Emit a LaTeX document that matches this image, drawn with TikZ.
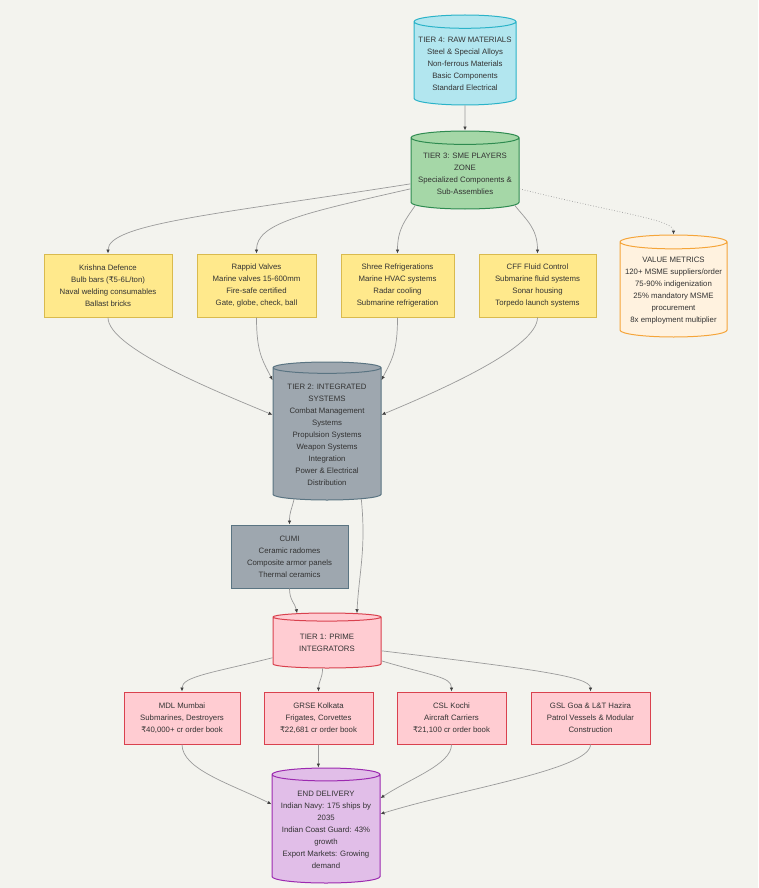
\documentclass[tikz,border=0pt]{standalone}
\usepackage{fontspec}
\setmainfont{Liberation Sans}
\newfontfamily\rupfont{DejaVu Sans}
\usetikzlibrary{shapes.geometric,arrows.meta}

\definecolor{paperbg}{HTML}{F3F3EE}
\definecolor{rawfill}{HTML}{B2E6EF}
\definecolor{rawline}{HTML}{2BB3C8}
\definecolor{smefill}{HTML}{A5D7A7}
\definecolor{smeline}{HTML}{2E8B50}
\definecolor{supfill}{HTML}{FFE98C}
\definecolor{supline}{HTML}{D9BA4E}
\definecolor{metfill}{HTML}{FFF2DF}
\definecolor{metline}{HTML}{F5A53A}
\definecolor{intfill}{HTML}{9EA7AF}
\definecolor{intline}{HTML}{5A7482}
\definecolor{primefill}{HTML}{FFCCD2}
\definecolor{primeline}{HTML}{D9414E}
\definecolor{delfill}{HTML}{E1BEE8}
\definecolor{delline}{HTML}{9C2AB0}
\definecolor{flowgray}{HTML}{9A9A9A}

\newcommand{\diagfont}{\fontsize{7.8}{12}\selectfont}
\newcommand{\rup}{{\rupfont ₹}}

\tikzset{
  tierdb/.style={cylinder, shape border rotate=90, aspect=0.14, anchor=shape center, draw, line width=1pt,
    align=center, inner sep=1pt, font=\diagfont, text=black!80},
  tierbox/.style={rectangle, draw, line width=1pt, align=center, inner sep=2pt,
    font=\diagfont, text=black!80},
  flow/.style={draw=flowgray, line width=0.7pt, -{Latex[length=4pt,width=3.5pt,color=black!75]}},
}

\begin{document}
\begin{tikzpicture}
  \fill[paperbg] (0,0) rectangle (758pt,-888pt);
  \begin{scope}[x=1pt,y=1pt]

  \node[tierdb, fill=rawfill, draw=rawline, minimum width=102pt, minimum height=90pt] (raw) at (465,-60)
    {TIER 4: RAW MATERIALS\\Steel \& Special Alloys\\Non-ferrous Materials\\Basic Components\\Standard Electrical};
  \node[tierdb, fill=smefill, draw=smeline, minimum width=108pt, minimum height=78pt] (sme) at (465,-170)
    {TIER 3: SME PLAYERS\\ZONE\\Specialized Components \&\\Sub-Assemblies};

  \node[tierbox, fill=supfill, draw=supline, minimum width=128pt, minimum height=63pt] (krishna) at (108,-285.5)
    {Krishna Defence\\Bulb bars (\rup5-6L/ton)\\Naval welding consumables\\Ballast bricks};
  \node[tierbox, fill=supfill, draw=supline, minimum width=119pt, minimum height=63pt] (rappid) at (256.5,-285.5)
    {Rappid Valves\\Marine valves 15-600mm\\Fire-safe certified\\Gate, globe, check, ball};
  \node[tierbox, fill=supfill, draw=supline, minimum width=113pt, minimum height=63pt] (shree) at (397.5,-285.5)
    {Shree Refrigerations\\Marine HVAC systems\\Radar cooling\\Submarine refrigeration};
  \node[tierbox, fill=supfill, draw=supline, minimum width=117pt, minimum height=63pt] (cff) at (537.5,-285.5)
    {CFF Fluid Control\\Submarine fluid systems\\Sonar housing\\Torpedo launch systems};
  \node[tierdb, fill=metfill, draw=metline, minimum width=107pt, minimum height=102pt] (metrics) at (673.5,-286)
    {VALUE METRICS\\120+ MSME suppliers/order\\75-90\% indigenization\\25\% mandatory MSME\\procurement\\8x employment multiplier};

  \node[tierdb, fill=intfill, draw=intline, minimum width=108pt, minimum height=138pt] (integ) at (327,-431)
    {TIER 2: INTEGRATED\\SYSTEMS\\Combat Management\\Systems\\Propulsion Systems\\Weapon Systems\\Integration\\Power \& Electrical\\Distribution};
  \node[tierbox, fill=intfill, draw=intline, minimum width=117pt, minimum height=63pt] (cumi) at (289.5,-556.5)
    {CUMI\\Ceramic radomes\\Composite armor panels\\Thermal ceramics};

  \node[tierdb, fill=primefill, draw=primeline, minimum width=108pt, minimum height=55pt] (prime) at (327,-640.5)
    {TIER 1: PRIME\\INTEGRATORS};
  \node[tierbox, fill=primefill, draw=primeline, minimum width=116pt, minimum height=52pt] (mdl) at (182,-718)
    {MDL Mumbai\\Submarines, Destroyers\\\rup40,000+ cr order book};
  \node[tierbox, fill=primefill, draw=primeline, minimum width=109pt, minimum height=52pt] (grse) at (318.5,-718)
    {GRSE Kolkata\\Frigates, Corvettes\\\rup22,681 cr order book};
  \node[tierbox, fill=primefill, draw=primeline, minimum width=109pt, minimum height=52pt] (csl) at (451.5,-718)
    {CSL Kochi\\Aircraft Carriers\\\rup21,100 cr order book};
  \node[tierbox, fill=primefill, draw=primeline, minimum width=119pt, minimum height=52pt] (gsl) at (590.5,-718)
    {GSL Goa \& L\&T Hazira\\Patrol Vessels \& Modular\\Construction};

  \node[tierdb, fill=delfill, draw=delline, minimum width=108pt, minimum height=115pt] (deliv) at (326,-825.5)
    {END DELIVERY\\Indian Navy: 175 ships by\\2035\\Indian Coast Guard: 43\%\\growth\\Export Markets: Growing\\demand};

  \draw[flow] (raw.south) -- (sme.north);
  \draw[flow] (sme.190) .. controls +(-190,-30) and +(0,30) .. (krishna.north);
  \draw[flow] (sme.195) .. controls +(-110,-25) and +(0,30) .. (rappid.north);
  \draw[flow] (sme.212) .. controls +(-10,-15) and +(0,25) .. (shree.north);
  \draw[flow] (sme.-32) .. controls +(12,-15) and +(0,25) .. (cff.north);
  \draw[flow, dotted] (sme.-15) .. controls +(100,-25) and +(0,15) .. (metrics.north);

  \draw[flow] (krishna.south) .. controls +(0,-30) and +(-60,25) .. (integ.160);
  \draw[flow] (rappid.south) .. controls +(0,-35) and +(-10,20) .. (integ.135);
  \draw[flow] (shree.south) .. controls +(0,-35) and +(10,20) .. (integ.45);
  \draw[flow] (cff.south) .. controls +(0,-30) and +(60,25) .. (integ.20);

  \draw[flow] (integ.243) .. controls +(-3,-12) and +(0,12) .. (cumi.north);
  \draw[flow] (integ.-62) .. controls +(5,-50) and +(2,40) .. (prime.45);
  \draw[flow] (cumi.south) .. controls +(0,-12) and +(-2,10) .. (prime.135);

  \draw[flow] (prime.195) .. controls +(-60,-15) and +(0,15) .. (mdl.north);
  \draw[flow] (prime.-100) .. controls +(0,-10) and +(0,10) .. (grse.north);
  \draw[flow] (prime.-18) .. controls +(50,-15) and +(0,15) .. (csl.north);
  \draw[flow] (prime.-8) .. controls +(150,-18) and +(0,15) .. (gsl.north);

  \draw[flow] (mdl.south) .. controls +(0,-25) and +(-40,20) .. (deliv.155);
  \draw[flow] (grse.south) -- (deliv.97);
  \draw[flow] (csl.south) .. controls +(0,-20) and +(30,20) .. (deliv.30);
  \draw[flow] (gsl.south) .. controls +(0,-25) and +(80,25) .. (deliv.16);
  \end{scope}
\end{tikzpicture}
\end{document}
